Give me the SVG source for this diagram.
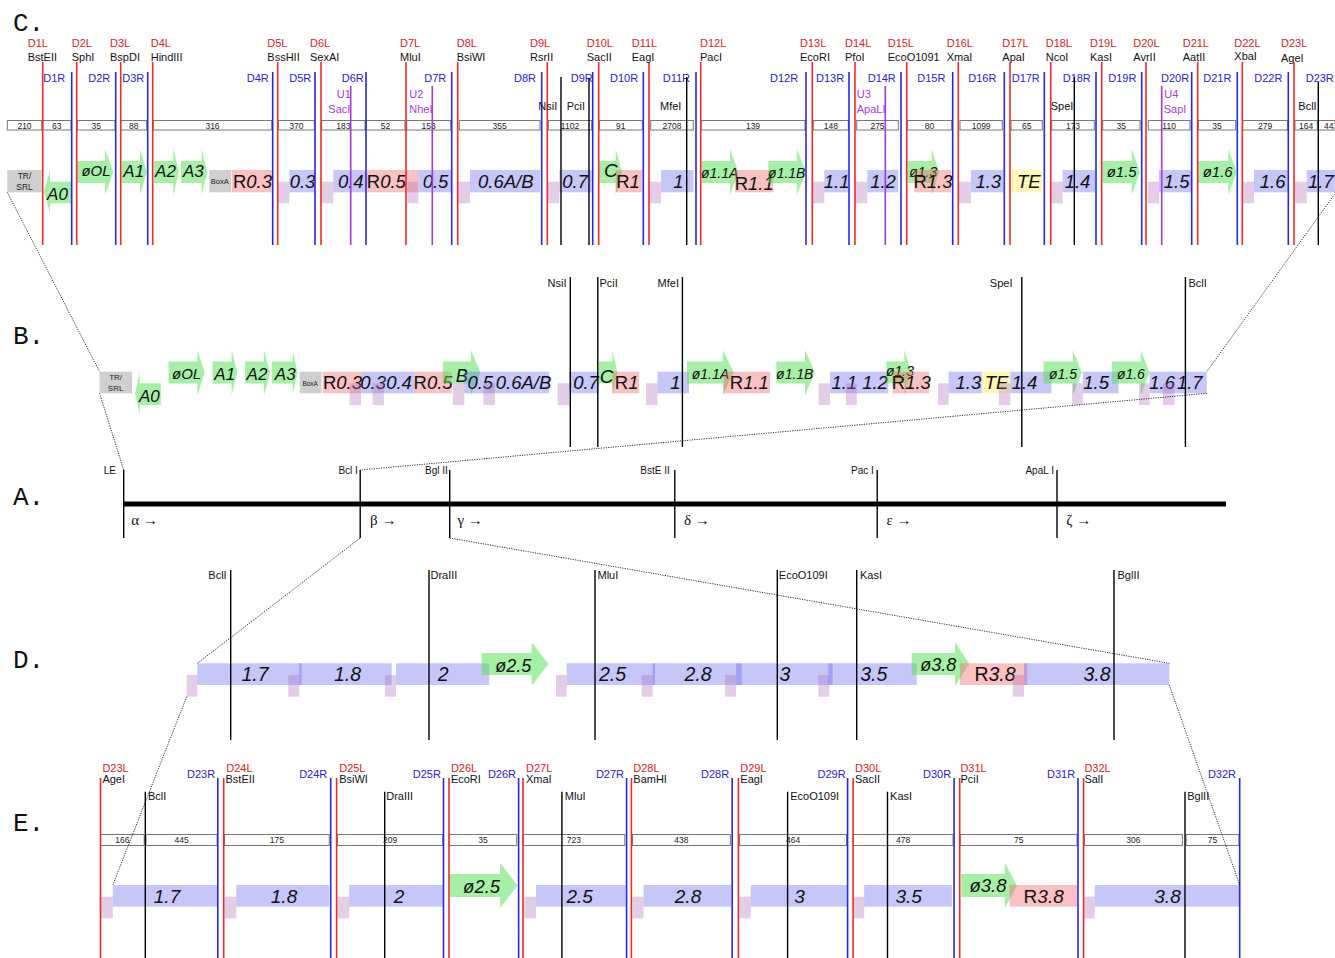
<svg xmlns="http://www.w3.org/2000/svg" width="1335" height="958" viewBox="0 0 1335 958">
<defs><style>
text{font-family:"Liberation Sans",Arial,sans-serif}
.ttl{font-family:"Liberation Mono","Courier New",monospace;font-size:26px;fill:#111}
.lbl{font-size:11px}
.sm{font-size:10px;fill:#111}
.end{text-anchor:end}
.rt{fill:#e02020}.bt{fill:#2323e0}.pt{fill:#a83adb}.kt{fill:#111}
.lr{stroke:#f42a2a;stroke-width:1.6}
.lb{stroke:#2626f0;stroke-width:1.6}
.lp{stroke:#a23ae0;stroke-width:1.6}
.lk{stroke:#000;stroke-width:1.4}
.bx{fill:#fff;stroke:#777;stroke-width:1}
.nt{font-size:8.5px;text-anchor:middle;fill:#222}
.gb{fill:#6262ee;fill-opacity:.36}
.gr{fill:#f06464;fill-opacity:.4}
.gp{fill:#b070b8;fill-opacity:.34}
.ga{fill:#4ee04e;fill-opacity:.5}
.gy{fill:#fff07a;fill-opacity:.55}
.gk{fill:#9a9a9a;fill-opacity:.48}
.gt{font-size:18.5px;font-style:italic;text-anchor:middle;fill:#111}
.gd{font-size:19.5px}
.at{font-size:15px;font-style:italic;text-anchor:middle;fill:#111}
.ab{font-size:17px}
.ut{font-style:normal}
.kx{font-size:8.5px;text-anchor:middle;fill:#222}
.gk2{font-size:15px;font-family:"Liberation Serif","Times New Roman",serif;fill:#111}
.dt{fill:none;stroke:#000;stroke-width:.8;stroke-dasharray:1.2 1.2}
</style></defs>
<rect width="1335" height="958" fill="#fff"/>

<g id="titles">
<text class="ttl" x="13" y="31">C.</text>
<text class="ttl" x="13" y="344">B.</text>
<text class="ttl" x="13" y="505">A.</text>
<text class="ttl" x="13" y="668">D.</text>
<text class="ttl" x="13" y="831">E.</text>
</g>

<!-- ===== C row genes ===== -->
<g id="C-genes">
<g id="c-trsrl"><rect class="gk" x="7.3" y="170" width="34.4" height="22.3"/><text class="kx" x="24.5" y="178.8">TR/</text><text class="kx" x="24.5" y="189.6">SRL</text></g>
<g id="c-a0"><path class="ga" d="M71,181.7H50V170L44,191.7L50,213.3V203.3H71Z"/><text class="at ab" x="57.5" y="199.8">A0</text></g>
<g id="c-ol"><path class="ga" d="M77.3,161H105V149L113.3,172L105,195V183H77.3Z"/><text class="at" x="96" y="175.5">øOL</text></g>
<g id="c-a1"><path class="ga" d="M121.7,161H140V149L146.7,172L140,195V183H121.7Z"/><text class="at ab" x="133.7" y="176.5">A1</text></g>
<g id="c-a2"><path class="ga" d="M154,161H173.3V149L179,172L173.3,195V183H154Z"/><text class="at ab" x="165.5" y="176.5">A2</text></g>
<g id="c-a3"><path class="ga" d="M181,161H201.7V149L207.3,172L201.7,195V183H181Z"/><text class="at ab" x="193.3" y="176.5">A3</text></g>
<g id="c-boxa"><rect class="gk" x="209.3" y="170" width="21.7" height="22.3"/><text class="kx" style="font-size:7.5px" x="219.7" y="183.7">BoxA</text></g>
<g id="c-r03"><rect class="gr" x="231.7" y="170" width="40" height="22.3"/><text class="gt" x="252.5" y="187.5"><tspan class="ut">R</tspan>0.3</text></g>
<g id="c-p1"><rect class="gp" x="277.7" y="181.7" width="11.6" height="21.6"/></g>
<g id="c-03"><rect class="gb" x="289.3" y="170" width="25.7" height="22.3"/><text class="gt" x="302.5" y="187.5">0.3</text></g>
<g id="c-p2"><rect class="gp" x="321" y="181.7" width="12.3" height="21.6"/></g>
<g id="c-04"><rect class="gb" x="333.3" y="170" width="32.7" height="22.3"/><text class="gt" x="350.8" y="187.5">0.4</text></g>
<g id="c-r05"><rect class="gr" x="366" y="170" width="52.3" height="22.3"/><text class="gt" x="386.3" y="187.5"><tspan class="ut">R</tspan>0.5</text></g>
<g id="c-p3"><rect class="gp" x="407.3" y="181.7" width="11" height="21.6"/></g>
<g id="c-05"><rect class="gb" x="418.3" y="170" width="32.7" height="22.3"/><text class="gt" x="435.5" y="187.5">0.5</text></g>
<g id="c-p4"><rect class="gp" x="457.7" y="181.7" width="12.3" height="21.6"/></g>
<g id="c-06"><rect class="gb" x="470" y="170" width="70" height="22.3"/><text class="gt" x="505.8" y="187.5">0.6A/B</text></g>
<g id="c-p5"><rect class="gp" x="547.3" y="181.7" width="12" height="21.6"/></g>
<g id="c-07"><rect class="gb" x="559.3" y="170" width="32.4" height="22.3"/><text class="gt" x="575" y="187.5">0.7</text></g>
<g id="c-c"><path class="ga" d="M599.3,161H615.7V149L622,172L615.7,195V183H599.3Z"/><text class="at" style="font-size:19px" x="610.8" y="177">C</text></g>
<g id="c-r1"><rect class="gr" x="615.7" y="170" width="26.6" height="22.3"/><text class="gt" x="628" y="188"><tspan class="ut">R</tspan>1</text></g>
<g id="c-p6"><rect class="gp" x="649" y="181.7" width="12" height="21.6"/></g>
<g id="c-1"><rect class="gb" x="661" y="170" width="32.3" height="22.3"/><text class="gt" x="678.3" y="188">1</text></g>
<g id="c-11a"><path class="ga" d="M701.7,161H730V149L738.3,172L730,195V183H701.7Z"/><text class="at" style="font-size:14px" x="719.7" y="178.3">ø1.1A</text></g>
<g id="c-r11"><rect class="gr" x="735" y="170" width="38.3" height="22.3"/><text class="gt" x="754.2" y="190"><tspan class="ut">R</tspan>1.1</text></g>
<g id="c-11b"><path class="ga" d="M768.3,161H796.7V149L806,172L796.7,195V183H768.3Z"/><text class="at" style="font-size:14px" x="786.8" y="178.3">ø1.1B</text></g>
<g id="c-p7"><rect class="gp" x="812.3" y="181.7" width="12" height="21.6"/></g>
<g id="c-1-1"><rect class="gb" x="824.3" y="170" width="24" height="22.3"/><text class="gt" x="836.7" y="188">1.1</text></g>
<g id="c-p8"><rect class="gp" x="855" y="181.7" width="12.3" height="21.6"/></g>
<g id="c-12"><rect class="gb" x="867.3" y="170" width="31" height="22.3"/><text class="gt" x="883" y="188">1.2</text></g>
<g id="c-o13"><path class="ga" d="M907.3,161H931.7V149L939,172L931.7,195V183H907.3Z"/><text class="at" style="font-size:14px" x="923.3" y="177">ø1.3</text></g>
<g id="c-r13"><rect class="gr" x="914.3" y="170" width="36.7" height="22.3"/><text class="gt" x="933" y="188"><tspan class="ut">R</tspan>1.3</text></g>
<g id="c-p9"><rect class="gp" x="958.3" y="181.7" width="12.7" height="21.6"/></g>
<g id="c-13"><rect class="gb" x="971" y="170" width="32.3" height="22.3"/><text class="gt" x="988.3" y="188">1.3</text></g>
<g id="c-te"><rect class="gy" x="1011" y="170" width="31.3" height="22.3"/><text class="gt" x="1028.8" y="188">TE</text></g>
<g id="c-p10"><rect class="gp" x="1050.7" y="181.7" width="12" height="21.6"/></g>
<g id="c-14"><rect class="gb" x="1062.7" y="170" width="32.3" height="22.3"/><text class="gt" x="1077.5" y="188">1.4</text></g>
<g id="c-o15"><path class="ga" d="M1102.7,161H1131.7V149L1140,172L1131.7,195V183H1102.7Z"/><text class="at" x="1121.7" y="177">ø1.5</text></g>
<g id="c-p11"><rect class="gp" x="1147.7" y="181.7" width="11.3" height="21.6"/></g>
<g id="c-15"><rect class="gb" x="1159" y="170" width="32" height="22.3"/><text class="gt" x="1176.7" y="188">1.5</text></g>
<g id="c-o16"><path class="ga" d="M1198.3,161H1228.3V149L1236.7,172L1228.3,195V183H1198.3Z"/><text class="at" x="1217.7" y="177">ø1.6</text></g>
<g id="c-p12"><rect class="gp" x="1242.7" y="181.7" width="11.3" height="21.6"/></g>
<g id="c-16"><rect class="gb" x="1254" y="170" width="33.7" height="22.3"/><text class="gt" x="1272.7" y="188">1.6</text></g>
<g id="c-p13"><rect class="gp" x="1294.3" y="181.7" width="12.4" height="21.6"/></g>
<g id="c-17"><rect class="gb" x="1306.7" y="170" width="33.3" height="22.3"/><text class="gt" x="1320.8" y="188">1.7</text></g>
</g>

<g id="C-lengths">
<rect class="bx" x="7.3" y="120.5" width="34.4" height="9.5"/><text class="nt" x="24.5" y="128.5">210</text>
<rect class="bx" x="42.7" y="120.5" width="28.3" height="9.5"/><text class="nt" x="56.85" y="128.5">63</text>
<rect class="bx" x="77.3" y="120.5" width="37.7" height="9.5"/><text class="nt" x="96.15" y="128.5">35</text>
<rect class="bx" x="120.7" y="120.5" width="26" height="9.5"/><text class="nt" x="133.7" y="128.5">88</text>
<rect class="bx" x="153.3" y="120.5" width="118.4" height="9.5"/><text class="nt" x="212.5" y="128.5">316</text>
<rect class="bx" x="278.3" y="120.5" width="36" height="9.5"/><text class="nt" x="296.3" y="128.5">370</text>
<rect class="bx" x="321.7" y="120.5" width="43.3" height="9.5"/><text class="nt" x="343.35" y="128.5">183</text>
<rect class="bx" x="366" y="120.5" width="39" height="9.5"/><text class="nt" x="385.5" y="128.5">52</text>
<rect class="bx" x="406.7" y="120.5" width="44" height="9.5"/><text class="nt" x="428.7" y="128.5">153</text>
<rect class="bx" x="459.3" y="120.5" width="80.7" height="9.5"/><text class="nt" x="499.65" y="128.5">355</text>
<rect class="bx" x="548.3" y="120.5" width="43.4" height="9.5"/><text class="nt" x="570" y="128.5">1102</text>
<rect class="bx" x="599.3" y="120.5" width="43" height="9.5"/><text class="nt" x="620.8" y="128.5">91</text>
<rect class="bx" x="650.7" y="120.5" width="42.6" height="9.5"/><text class="nt" x="672" y="128.5">2708</text>
<rect class="bx" x="701" y="120.5" width="104" height="9.5"/><text class="nt" x="753" y="128.5">139</text>
<rect class="bx" x="813.3" y="120.5" width="35" height="9.5"/><text class="nt" x="830.8" y="128.5">148</text>
<rect class="bx" x="856.7" y="120.5" width="41.6" height="9.5"/><text class="nt" x="877.5" y="128.5">275</text>
<rect class="bx" x="907.3" y="120.5" width="44.4" height="9.5"/><text class="nt" x="929.5" y="128.5">80</text>
<rect class="bx" x="960" y="120.5" width="42.3" height="9.5"/><text class="nt" x="981.15" y="128.5">1099</text>
<rect class="bx" x="1011" y="120.5" width="31.3" height="9.5"/><text class="nt" x="1026.65" y="128.5">65</text>
<rect class="bx" x="1051.7" y="120.5" width="42.6" height="9.5"/><text class="nt" x="1073" y="128.5">173</text>
<rect class="bx" x="1102.7" y="120.5" width="37.3" height="9.5"/><text class="nt" x="1121.35" y="128.5">35</text>
<rect class="bx" x="1148.3" y="120.5" width="41.7" height="9.5"/><text class="nt" x="1169.15" y="128.5">110</text>
<rect class="bx" x="1198.3" y="120.5" width="37.4" height="9.5"/><text class="nt" x="1217" y="128.5">35</text>
<rect class="bx" x="1242.7" y="120.5" width="45" height="9.5"/><text class="nt" x="1265.2" y="128.5">279</text>
<rect class="bx" x="1295" y="120.5" width="22.3" height="9.5"/><text class="nt" x="1306.15" y="128.5">164</text>
<rect class="bx" x="1318.3" y="120.5" width="26" height="9.5"/><text class="nt" x="1331" y="128.5">443</text>
</g>

<g id="C-sites">
<g id="c-d1"><line class="lr" x1="42.7" y1="62" x2="42.7" y2="245"/><text class="lbl rt" x="27.7" y="47.3">D1L</text><text class="lbl kt" x="27.7" y="60.7">BstEII</text><line class="lb" x1="71.7" y1="72" x2="71.7" y2="245"/><text class="lbl bt" x="43.3" y="82">D1R</text></g>
<g id="c-d2"><line class="lr" x1="76.7" y1="62" x2="76.7" y2="245"/><text class="lbl rt" x="71.7" y="47.3">D2L</text><text class="lbl kt" x="71.7" y="60.7">SphI</text><line class="lb" x1="115.7" y1="72" x2="115.7" y2="245"/><text class="lbl bt" x="88.3" y="82">D2R</text></g>
<g id="c-d3"><line class="lr" x1="120.7" y1="62" x2="120.7" y2="245"/><text class="lbl rt" x="110" y="47.3">D3L</text><text class="lbl kt" x="110" y="60.7">BspDI</text><line class="lb" x1="147.7" y1="72" x2="147.7" y2="245"/><text class="lbl bt" x="122.3" y="82">D3R</text></g>
<g id="c-d4"><line class="lr" x1="152.7" y1="62" x2="152.7" y2="245"/><text class="lbl rt" x="150.7" y="47.3">D4L</text><text class="lbl kt" x="150.7" y="60.7">HindIII</text><line class="lb" x1="272.7" y1="72" x2="272.7" y2="245"/><text class="lbl bt" x="246.7" y="82">D4R</text></g>
<g id="c-d5"><line class="lr" x1="277.7" y1="62" x2="277.7" y2="245"/><text class="lbl rt" x="267.3" y="47.3">D5L</text><text class="lbl kt" x="267.3" y="60.7">BssHII</text><line class="lb" x1="315" y1="72" x2="315" y2="245"/><text class="lbl bt" x="289.3" y="82">D5R</text></g>
<g id="c-d6"><line class="lr" x1="321" y1="62" x2="321" y2="245"/><text class="lbl rt" x="310" y="47.3">D6L</text><text class="lbl kt" x="310" y="60.7">SexAI</text><line class="lb" x1="366" y1="72" x2="366" y2="245"/><text class="lbl bt" x="341.7" y="82">D6R</text></g>
<g id="c-d7"><line class="lr" x1="406" y1="62" x2="406" y2="245"/><text class="lbl rt" x="400" y="47.3">D7L</text><text class="lbl kt" x="400" y="60.7">MluI</text><line class="lb" x1="451.7" y1="72" x2="451.7" y2="245"/><text class="lbl bt" x="424.3" y="82">D7R</text></g>
<g id="c-d8"><line class="lr" x1="457.7" y1="62" x2="457.7" y2="245"/><text class="lbl rt" x="456.7" y="47.3">D8L</text><text class="lbl kt" x="456.7" y="60.7">BsiWI</text><line class="lb" x1="541.7" y1="72" x2="541.7" y2="245"/><text class="lbl bt" x="514" y="82">D8R</text></g>
<g id="c-d9"><line class="lr" x1="547.3" y1="62" x2="547.3" y2="245"/><text class="lbl rt" x="530" y="47.3">D9L</text><text class="lbl kt" x="530" y="60.7">RsrII</text><line class="lb" x1="592.7" y1="72" x2="592.7" y2="245"/><text class="lbl bt" x="570.7" y="82">D9R</text></g>
<g id="c-d10"><line class="lr" x1="598.7" y1="62" x2="598.7" y2="245"/><text class="lbl rt" x="586.7" y="47.3">D10L</text><text class="lbl kt" x="586.7" y="60.7">SacII</text><line class="lb" x1="643.3" y1="72" x2="643.3" y2="245"/><text class="lbl bt" x="610" y="82">D10R</text></g>
<g id="c-d11"><line class="lr" x1="649" y1="62" x2="649" y2="245"/><text class="lbl rt" x="631.7" y="47.3">D11L</text><text class="lbl kt" x="631.7" y="60.7">EagI</text><line class="lb" x1="696" y1="72" x2="696" y2="245"/><text class="lbl bt" x="662.7" y="82">D11R</text></g>
<g id="c-d12"><line class="lr" x1="700.7" y1="62" x2="700.7" y2="245"/><text class="lbl rt" x="700" y="47.3">D12L</text><text class="lbl kt" x="700" y="60.7">PacI</text><line class="lb" x1="806" y1="72" x2="806" y2="245"/><text class="lbl bt" x="770" y="82">D12R</text></g>
<g id="c-d13"><line class="lr" x1="812.3" y1="62" x2="812.3" y2="245"/><text class="lbl rt" x="800" y="47.3">D13L</text><text class="lbl kt" x="800" y="60.7">EcoRI</text><line class="lb" x1="849" y1="72" x2="849" y2="245"/><text class="lbl bt" x="816" y="82">D13R</text></g>
<g id="c-d14"><line class="lr" x1="855" y1="62" x2="855" y2="245"/><text class="lbl rt" x="845" y="47.3">D14L</text><text class="lbl kt" x="845" y="60.7">PfoI</text><line class="lb" x1="901" y1="72" x2="901" y2="245"/><text class="lbl bt" x="867.7" y="82">D14R</text></g>
<g id="c-d15"><line class="lr" x1="906.7" y1="62" x2="906.7" y2="245"/><text class="lbl rt" x="887.7" y="47.3">D15L</text><text class="lbl kt" x="887.7" y="60.7">EcoO1091</text><line class="lb" x1="952.7" y1="72" x2="952.7" y2="245"/><text class="lbl bt" x="917.3" y="82">D15R</text></g>
<g id="c-d16"><line class="lr" x1="958.3" y1="62" x2="958.3" y2="245"/><text class="lbl rt" x="946.7" y="47.3">D16L</text><text class="lbl kt" x="946.7" y="60.7">XmaI</text><line class="lb" x1="1004.3" y1="72" x2="1004.3" y2="245"/><text class="lbl bt" x="968.3" y="82">D16R</text></g>
<g id="c-d17"><line class="lr" x1="1010" y1="62" x2="1010" y2="245"/><text class="lbl rt" x="1002.3" y="47.3">D17L</text><text class="lbl kt" x="1002.3" y="60.7">ApaI</text><line class="lb" x1="1044.3" y1="72" x2="1044.3" y2="245"/><text class="lbl bt" x="1011.7" y="82">D17R</text></g>
<g id="c-d18"><line class="lr" x1="1050.7" y1="62" x2="1050.7" y2="245"/><text class="lbl rt" x="1045.7" y="47.3">D18L</text><text class="lbl kt" x="1045.7" y="60.7">NcoI</text><line class="lb" x1="1096" y1="72" x2="1096" y2="245"/><text class="lbl bt" x="1062.7" y="82">D18R</text></g>
<g id="c-d19"><line class="lr" x1="1101.7" y1="62" x2="1101.7" y2="245"/><text class="lbl rt" x="1090" y="47.3">D19L</text><text class="lbl kt" x="1090" y="60.7">KasI</text><line class="lb" x1="1141.7" y1="72" x2="1141.7" y2="245"/><text class="lbl bt" x="1108.3" y="82">D19R</text></g>
<g id="c-d20"><line class="lr" x1="1146" y1="62" x2="1146" y2="245"/><text class="lbl rt" x="1133.3" y="47.3">D20L</text><text class="lbl kt" x="1133.3" y="60.7">AvrII</text><line class="lb" x1="1191.7" y1="72" x2="1191.7" y2="245"/><text class="lbl bt" x="1161" y="82">D20R</text></g>
<g id="c-d21"><line class="lr" x1="1197.7" y1="62" x2="1197.7" y2="245"/><text class="lbl rt" x="1182.7" y="47.3">D21L</text><text class="lbl kt" x="1182.7" y="60.7">AatII</text><line class="lb" x1="1237.3" y1="72" x2="1237.3" y2="245"/><text class="lbl bt" x="1203.3" y="82">D21R</text></g>
<g id="c-d22"><line class="lr" x1="1242.3" y1="62" x2="1242.3" y2="245"/><text class="lbl rt" x="1234.3" y="47.3">D22L</text><text class="lbl kt" x="1234.3" y="60">XbaI</text><line class="lb" x1="1288.3" y1="72" x2="1288.3" y2="245"/><text class="lbl bt" x="1254.3" y="82">D22R</text></g>
<g id="c-d23"><line class="lr" x1="1294" y1="62" x2="1294" y2="245"/><text class="lbl rt" x="1281" y="47.3">D23L</text><text class="lbl kt" x="1281" y="61.5">AgeI</text><text class="lbl bt" x="1305.7" y="82">D23R</text></g>
<g id="c-u1"><line class="lp" x1="350.7" y1="86" x2="350.7" y2="245"/><text class="lbl pt" x="336.7" y="97.5">U1</text><text class="lbl pt" x="328.3" y="112.5">SacI</text></g>
<g id="c-u2"><line class="lp" x1="432.3" y1="86" x2="432.3" y2="245"/><text class="lbl pt" x="409.3" y="97.5">U2</text><text class="lbl pt" x="409.3" y="112.5">NheI</text></g>
<g id="c-u3"><line class="lp" x1="885.3" y1="86" x2="885.3" y2="245"/><text class="lbl pt" x="856.7" y="97.5">U3</text><text class="lbl pt" x="856.7" y="112.5">ApaLI</text></g>
<g id="c-u4"><line class="lp" x1="1161.7" y1="86" x2="1161.7" y2="245"/><text class="lbl pt" x="1164.3" y="97.5">U4</text><text class="lbl pt" x="1163.7" y="112.5">SapI</text></g>
<g id="c-nsi"><line class="lk" x1="561" y1="77" x2="561" y2="245"/><text class="lbl kt" x="538.3" y="110">NsiI</text></g>
<g id="c-pci"><line class="lk" x1="589" y1="78" x2="589" y2="245"/><text class="lbl kt" x="566.7" y="110">PciI</text></g>
<g id="c-mfe"><line class="lk" x1="686.7" y1="77" x2="686.7" y2="245"/><text class="lbl kt" x="660" y="110">MfeI</text></g>
<g id="c-spe"><line class="lk" x1="1074.3" y1="77" x2="1074.3" y2="245"/><text class="lbl kt" x="1050.7" y="110">SpeI</text></g>
<g id="c-bcl"><line class="lk" x1="1318.3" y1="82" x2="1318.3" y2="245"/><text class="lbl kt" x="1298.3" y="110">BclI</text></g>
</g>

<!-- ===== B row ===== -->
<g id="B-genes">
<g id="b-trsrl"><rect class="gk" x="99.6" y="371.7" width="32.5" height="21.6"/><text class="kx" style="font-size:8px" x="115.6" y="380.3">TR/</text><text class="kx" style="font-size:8px" x="115.6" y="391">SRL</text></g>
<g id="b-a0"><path class="ga" d="M160.8,383.3H139.7V371.7L135.2,393.3L139.7,415V405H160.8Z"/><text class="at ab" x="149.3" y="401.5">A0</text></g>
<g id="b-ol"><path class="ga" d="M168.5,361.5H197.2V350L204.8,372.5L197.2,395V383.5H168.5Z"/><text class="at" x="186.6" y="378.8">øOL</text></g>
<g id="b-a1"><path class="ga" d="M212.5,361.5H231.6V350L237.3,372.5L231.6,395V383.5H212.5Z"/><text class="at ab" x="224.7" y="379.5">A1</text></g>
<g id="b-a2"><path class="ga" d="M245,361.5H264V350L270,372.5L264,395V383.5H245Z"/><text class="at ab" x="257" y="379.5">A2</text></g>
<g id="b-a3"><path class="ga" d="M271.8,361.5H292.8V350L297.4,372.5L292.8,395V383.5H271.8Z"/><text class="at ab" x="285.2" y="379.5">A3</text></g>
<g id="b-boxa"><rect class="gk" x="299.7" y="371.7" width="21.8" height="21.6"/><text class="kx" style="font-size:6.5px" x="310.2" y="385.5">BoxA</text></g>
<g id="b-r03"><rect class="gr" x="322.7" y="371.7" width="39" height="21.6"/><text class="gt" x="342.5" y="389"><tspan class="ut">R</tspan>0.3</text></g>
<g id="b-p1"><rect class="gp" x="349.5" y="383.3" width="11.5" height="21.7"/></g>
<g id="b-03"><rect class="gb" x="361.7" y="371.7" width="22.2" height="21.6"/><text class="gt" x="373.2" y="389">0.3</text></g>
<g id="b-p2"><rect class="gp" x="372.4" y="383.3" width="11.5" height="21.7"/></g>
<g id="b-04"><rect class="gb" x="383.9" y="371.7" width="30.6" height="21.6"/><text class="gt" x="399" y="389">0.4</text></g>
<g id="b-r05"><rect class="gr" x="414.5" y="371.7" width="37.2" height="21.6"/><text class="gt" x="433.1" y="389"><tspan class="ut">R</tspan>0.5</text></g>
<g id="b-b"><path class="ga" d="M442.8,361.5H470.8V350L480.4,372.5L470.8,395V383.5H442.8Z"/><text class="at" style="font-size:18px" x="461.8" y="381.5">B</text></g>
<g id="b-p3"><rect class="gp" x="452.8" y="383.3" width="11.5" height="21.7"/></g>
<g id="b-05"><rect class="gb" x="464.3" y="371.7" width="31.4" height="21.6"/><text class="gt" x="480.3" y="389">0.5</text></g>
<g id="b-p4"><rect class="gp" x="483.4" y="383.3" width="11.5" height="21.7"/></g>
<g id="b-06"><rect class="gb" x="495.7" y="371.7" width="53.5" height="21.6"/><text class="gt" x="523.5" y="389">0.6A/B</text></g>
<g id="b-p5"><rect class="gp" x="557.7" y="383.3" width="11.4" height="21.7"/></g>
<g id="b-07"><rect class="gb" x="569.1" y="371.7" width="29.9" height="21.6"/><text class="gt" x="586" y="389">0.7</text></g>
<g id="b-c"><path class="ga" d="M599,361.5H612.4V350L617.4,372.5L612.4,395V383.5H599Z"/><text class="at" style="font-size:19px" x="606.6" y="382.5">C</text></g>
<g id="b-r1"><rect class="gr" x="612.4" y="371.7" width="26.8" height="21.6"/><text class="gt" x="626.7" y="389"><tspan class="ut">R</tspan>1</text></g>
<g id="b-p6"><rect class="gp" x="646" y="383.3" width="11.5" height="21.7"/></g>
<g id="b-1"><rect class="gb" x="657.5" y="371.7" width="31.5" height="21.6"/><text class="gt" x="675.5" y="389">1</text></g>
<g id="b-11a"><path class="ga" d="M687,361.5H722.9V350L733.6,372.5L722.9,395V383.5H687Z"/><text class="at" style="font-size:14px" x="710.4" y="378.5">ø1.1A</text></g>
<g id="b-r11"><rect class="gr" x="723.6" y="371.7" width="46.4" height="21.6"/><text class="gt" x="749.3" y="389"><tspan class="ut">R</tspan>1.1</text></g>
<g id="b-11b"><path class="ga" d="M776.4,361.5H805V350L815,372.5L805,395V383.5H776.4Z"/><text class="at" style="font-size:14px" x="794.8" y="378.5">ø1.1B</text></g>
<g id="b-p7"><rect class="gp" x="818.6" y="383.3" width="11.4" height="21.7"/></g>
<g id="b-1-1"><rect class="gb" x="830" y="371.7" width="26.8" height="21.6"/><text class="gt" x="844.3" y="389">1.1</text></g>
<g id="b-p8"><rect class="gp" x="846" y="383.3" width="10.8" height="21.7"/></g>
<g id="b-12"><rect class="gb" x="856.8" y="371.7" width="31.4" height="21.6"/><text class="gt" x="875" y="389">1.2</text></g>
<g id="b-o13"><path class="ga" d="M886.4,361.5H904.3V350L911.4,372.5L904.3,395V383.5H886.4Z"/><text class="at" style="font-size:14px" x="900" y="375.5">ø1.3</text></g>
<g id="b-r13"><rect class="gr" x="892.5" y="371.7" width="36.8" height="21.6"/><text class="gt" x="911.3" y="389"><tspan class="ut">R</tspan>1.3</text></g>
<g id="b-p9"><rect class="gp" x="937.9" y="383.3" width="10.7" height="21.7"/></g>
<g id="b-13"><rect class="gb" x="948.6" y="371.7" width="33.2" height="21.6"/><text class="gt" x="968.4" y="389">1.3</text></g>
<g id="b-te"><rect class="gy" x="981.8" y="371.7" width="28.6" height="21.6"/><text class="gt" x="996.6" y="389">TE</text></g>
<g id="b-p10"><rect class="gp" x="998.9" y="383.3" width="11.5" height="21.7"/></g>
<g id="b-14"><rect class="gb" x="1010.4" y="371.7" width="41" height="21.6"/><text class="gt" x="1024.5" y="389">1.4</text></g>
<g id="b-o15"><path class="ga" d="M1043.6,361.5H1072.9V350L1081.8,372.5L1072.9,395V383.5H1043.6Z"/><text class="at" style="font-size:14px" x="1063" y="378.5">ø1.5</text></g>
<g id="b-p11"><rect class="gp" x="1072.1" y="383.3" width="10.8" height="21.7"/></g>
<g id="b-15"><rect class="gb" x="1082.9" y="371.7" width="35.7" height="21.6"/><text class="gt" x="1096.1" y="389">1.5</text></g>
<g id="b-o16"><path class="ga" d="M1112.1,361.5H1140.7V350L1149.6,372.5L1140.7,395V383.5H1112.1Z"/><text class="at" style="font-size:14px" x="1130.9" y="378.5">ø1.6</text></g>
<g id="b-p12"><rect class="gp" x="1138.9" y="383.3" width="10.7" height="21.7"/></g>
<g id="b-16"><rect class="gb" x="1149.6" y="371.7" width="25" height="21.6"/><text class="gt" x="1162.1" y="389">1.6</text></g>
<g id="b-p13"><rect class="gp" x="1162.9" y="383.3" width="11.7" height="21.7"/></g>
<g id="b-17"><rect class="gb" x="1174.6" y="371.7" width="32.2" height="21.6"/><text class="gt" x="1189.8" y="389">1.7</text></g>
</g>
<g id="B-sites">
<g id="b-nsi"><line class="lk" x1="570.3" y1="277" x2="570.3" y2="447"/><text class="lbl kt end" x="566.5" y="286.5">NsiI</text></g>
<g id="b-pci"><line class="lk" x1="597.8" y1="277" x2="597.8" y2="447"/><text class="lbl kt" x="599.5" y="286.5">PciI</text></g>
<g id="b-mfe"><line class="lk" x1="682.4" y1="277" x2="682.4" y2="447"/><text class="lbl kt end" x="679" y="286.5">MfeI</text></g>
<g id="b-spe"><line class="lk" x1="1021.8" y1="277" x2="1021.8" y2="447"/><text class="lbl kt end" x="1012.5" y="286.5">SpeI</text></g>
<g id="b-bcl"><line class="lk" x1="1185.4" y1="277" x2="1185.4" y2="447"/><text class="lbl kt" x="1188.5" y="286.5">BclI</text></g>
</g>

<!-- ===== A row ===== -->
<g id="A-map">
<g id="a-genome"><line x1="123.7" y1="504" x2="1226" y2="504" stroke="#000" stroke-width="5"/></g>
<g id="a-le"><line class="lk" x1="123.7" y1="470" x2="123.7" y2="538"/><text class="sm end" x="116" y="473.5">LE</text><text class="gk2" x="131.3" y="525">α →</text></g>
<g id="a-bcl"><line class="lk" x1="360.2" y1="470" x2="360.2" y2="538"/><text class="sm end" x="357.9" y="473.5">Bcl I</text><text class="gk2" x="370.1" y="525">β →</text></g>
<g id="a-bgl"><line class="lk" x1="449.7" y1="470" x2="449.7" y2="538"/><text class="sm end" x="447.8" y="473.5">Bgl II</text><text class="gk2" x="457.4" y="525">γ →</text></g>
<g id="a-bste"><line class="lk" x1="674.8" y1="470" x2="674.8" y2="538"/><text class="sm end" x="669.8" y="473.5">BstE II</text><text class="gk2" x="684" y="525">δ →</text></g>
<g id="a-pac"><line class="lk" x1="877.2" y1="470" x2="877.2" y2="538"/><text class="sm end" x="873.8" y="473.5">Pac I</text><text class="gk2" x="886.4" y="525">ε →</text></g>
<g id="a-apal"><line class="lk" x1="1057" y1="470" x2="1057" y2="538"/><text class="sm end" x="1054" y="473.5">ApaL I</text><text class="gk2" x="1066.2" y="525">ζ →</text></g>
</g>

<!-- ===== D row ===== -->
<g id="D-genes">
<g id="d-p1"><rect class="gp" x="186.7" y="675" width="10.6" height="21.7"/></g>
<g id="d-17"><rect class="gb" x="197.3" y="663.3" width="104.4" height="21.7"/><text class="gt gd" x="255" y="681">1.7</text></g>
<g id="d-p2"><rect class="gp" x="288.3" y="675" width="11" height="21.7"/></g>
<g id="d-18"><rect class="gb" x="299.3" y="663.3" width="92.4" height="21.7"/><text class="gt gd" x="347.5" y="681">1.8</text></g>
<g id="d-p3"><rect class="gp" x="385" y="675" width="11" height="21.7"/></g>
<g id="d-2"><rect class="gb" x="396" y="663.3" width="93.3" height="21.7"/><text class="gt gd" x="443.3" y="681">2</text></g>
<g id="d-o25"><path class="ga" d="M481.7,653H531.7V642L548.3,664L531.7,686V675H481.7Z"/><text class="at" style="font-size:18px" x="513.3" y="671.5">ø2.5</text></g>
<g id="d-p4"><rect class="gp" x="556" y="675" width="10.7" height="21.7"/></g>
<g id="d-25"><rect class="gb" x="566.7" y="663.3" width="88.3" height="21.7"/><text class="gt gd" x="612.5" y="681">2.5</text></g>
<g id="d-p5"><rect class="gp" x="641.7" y="675" width="11" height="21.7"/></g>
<g id="d-28"><rect class="gb" x="652.7" y="663.3" width="89" height="21.7"/><text class="gt gd" x="698" y="681">2.8</text></g>
<g id="d-p6"><rect class="gp" x="725" y="675" width="11" height="21.7"/></g>
<g id="d-3"><rect class="gb" x="736" y="663.3" width="96.7" height="21.7"/><text class="gt gd" x="785" y="681">3</text></g>
<g id="d-p7"><rect class="gp" x="818.3" y="675" width="11" height="21.7"/></g>
<g id="d-35"><rect class="gb" x="828.3" y="663.3" width="88.4" height="21.7"/><text class="gt gd" x="873.7" y="681">3.5</text></g>
<g id="d-o38"><path class="ga" d="M911.7,653H955V642L969.3,664L955,686V675H911.7Z"/><text class="at" style="font-size:18px" x="938.3" y="671">ø3.8</text></g>
<g id="d-r38"><rect class="gr" x="960" y="663.3" width="67.3" height="21.7"/><text class="gt gd" x="995" y="681"><tspan class="ut">R</tspan>3.8</text></g>
<g id="d-p8"><rect class="gp" x="1012.7" y="675" width="11.3" height="21.7"/></g>
<g id="d-38"><rect class="gb" x="1024" y="663.3" width="145.3" height="21.7"/><text class="gt gd" x="1097" y="681">3.8</text></g>
</g>
<g id="D-sites">
<g id="d-bcl"><line class="lk" x1="230.7" y1="570" x2="230.7" y2="740" stroke="#333"/><text class="lbl kt end" x="226.7" y="579">BclI</text></g>
<g id="d-dra"><line class="lk" x1="429" y1="570" x2="429" y2="740"/><text class="lbl kt" x="430.5" y="579">DraIII</text></g>
<g id="d-mlu"><line class="lk" x1="595" y1="570" x2="595" y2="740"/><text class="lbl kt" x="597.5" y="579">MluI</text></g>
<g id="d-eco"><line class="lk" x1="777.3" y1="570" x2="777.3" y2="740"/><text class="lbl kt" x="778.8" y="579">EcoO109I</text></g>
<g id="d-kas"><line class="lk" x1="856.7" y1="570" x2="856.7" y2="740"/><text class="lbl kt" x="860" y="579">KasI</text></g>
<g id="d-bgl"><line class="lk" x1="1114" y1="570" x2="1114" y2="740"/><text class="lbl kt" x="1117.5" y="579">BglII</text></g>
</g>

<!-- ===== E row ===== -->
<g id="E-genes">
<g id="e-p1"><rect class="gp" x="100.5" y="896.7" width="12.3" height="21.6"/></g>
<g id="e-17"><rect class="gb" x="112.8" y="885" width="104.3" height="21.7"/><text class="gt" style="font-size:19px" x="167" y="902.5">1.7</text></g>
<g id="e-p2"><rect class="gp" x="224.5" y="896.7" width="11.8" height="21.6"/></g>
<g id="e-18"><rect class="gb" x="236.3" y="885" width="92.9" height="21.7"/><text class="gt" style="font-size:19px" x="284" y="902.5">1.8</text></g>
<g id="e-p3"><rect class="gp" x="337.3" y="896.7" width="11.9" height="21.6"/></g>
<g id="e-2"><rect class="gb" x="349.2" y="885" width="93.6" height="21.7"/><text class="gt" style="font-size:19px" x="399" y="902.5">2</text></g>
<g id="e-o25"><path class="ga" d="M449.4,874H500.1V863L517.5,885.5L500.1,908V897H449.4Z"/><text class="at" style="font-size:18.5px" x="481.6" y="893">ø2.5</text></g>
<g id="e-p4"><rect class="gp" x="524.2" y="896.7" width="11.8" height="21.6"/></g>
<g id="e-25"><rect class="gb" x="536" y="885" width="89.9" height="21.7"/><text class="gt" style="font-size:19px" x="579.6" y="902.5">2.5</text></g>
<g id="e-p5"><rect class="gp" x="632.5" y="896.7" width="11.1" height="21.6"/></g>
<g id="e-28"><rect class="gb" x="643.6" y="885" width="87.4" height="21.7"/><text class="gt" style="font-size:19px" x="688" y="902.5">2.8</text></g>
<g id="e-p6"><rect class="gp" x="739.6" y="896.7" width="11.1" height="21.6"/></g>
<g id="e-3"><rect class="gb" x="750.7" y="885" width="96.1" height="21.7"/><text class="gt" style="font-size:19px" x="799.5" y="902.5">3</text></g>
<g id="e-p7"><rect class="gp" x="853.1" y="896.7" width="11.1" height="21.6"/></g>
<g id="e-35"><rect class="gb" x="864.2" y="885" width="87.7" height="21.7"/><text class="gt" style="font-size:19px" x="908.7" y="902.5">3.5</text></g>
<g id="e-o38"><path class="ga" d="M961.2,874H1004.8V863L1017,885.5L1004.8,908V897H961.2Z"/><text class="at" style="font-size:18.5px" x="988" y="892">ø3.8</text></g>
<g id="e-r38"><rect class="gr" x="1009.6" y="885" width="67.4" height="21.7"/><text class="gt" style="font-size:19px" x="1043.7" y="902.5"><tspan class="ut">R</tspan>3.8</text></g>
<g id="e-p8"><rect class="gp" x="1084.4" y="896.7" width="10.3" height="21.6"/></g>
<g id="e-38"><rect class="gb" x="1094.7" y="885" width="145" height="21.7"/><text class="gt" style="font-size:19px" x="1167.5" y="902.5">3.8</text></g>
</g>
<g id="E-lengths">
<rect class="bx" x="100.5" y="834.5" width="43.7" height="11"/><text class="nt" x="122.35" y="843">166</text>
<rect class="bx" x="146" y="834.5" width="71.1" height="11"/><text class="nt" x="181.55" y="843">445</text>
<rect class="bx" x="224.5" y="834.5" width="104.7" height="11"/><text class="nt" x="276.85" y="843">175</text>
<rect class="bx" x="337.3" y="834.5" width="105.5" height="11"/><text class="nt" x="390.05" y="843">209</text>
<rect class="bx" x="449.4" y="834.5" width="67.4" height="11"/><text class="nt" x="483.1" y="843">35</text>
<rect class="bx" x="523" y="834.5" width="101.8" height="11"/><text class="nt" x="573.9" y="843">723</text>
<rect class="bx" x="632.5" y="834.5" width="97.8" height="11"/><text class="nt" x="681.4" y="843">438</text>
<rect class="bx" x="739.6" y="834.5" width="106.9" height="11"/><text class="nt" x="793.05" y="843">464</text>
<rect class="bx" x="853.1" y="834.5" width="99.9" height="11"/><text class="nt" x="903.05" y="843">478</text>
<rect class="bx" x="960.4" y="834.5" width="116.6" height="11"/><text class="nt" x="1018.7" y="843">75</text>
<rect class="bx" x="1084.4" y="834.5" width="98" height="11"/><text class="nt" x="1133.4" y="843">306</text>
<rect class="bx" x="1186.1" y="834.5" width="52.9" height="11"/><text class="nt" x="1212.55" y="843">75</text>
</g>
<g id="E-sites">
<g id="e-d23"><line class="lr" x1="100.5" y1="778" x2="100.5" y2="958"/><text class="lbl rt" x="102.4" y="772.3">D23L</text><text class="lbl kt" x="102.4" y="783">AgeI</text><line class="lb" x1="217.8" y1="778" x2="217.8" y2="958"/><text class="lbl bt end" x="215.2" y="778.3">D23R</text></g>
<g id="e-d24"><line class="lr" x1="223.7" y1="778" x2="223.7" y2="958"/><text class="lbl rt" x="226.3" y="772.3">D24L</text><text class="lbl kt" x="225.5" y="783">BstEII</text><line class="lb" x1="330.7" y1="778" x2="330.7" y2="958"/><text class="lbl bt end" x="327.3" y="778.3">D24R</text></g>
<g id="e-d25"><line class="lr" x1="336.6" y1="778" x2="336.6" y2="958"/><text class="lbl rt" x="339.2" y="772.3">D25L</text><text class="lbl kt" x="339.2" y="783">BsiWI</text><line class="lb" x1="443.5" y1="778" x2="443.5" y2="958"/><text class="lbl bt end" x="440.9" y="778.3">D25R</text></g>
<g id="e-d26"><line class="lr" x1="449" y1="778" x2="449" y2="958"/><text class="lbl rt" x="450.9" y="772.3">D26L</text><text class="lbl kt" x="450.9" y="783">EcoRI</text><line class="lb" x1="518.6" y1="778" x2="518.6" y2="958"/><text class="lbl bt end" x="516" y="778.3">D26R</text></g>
<g id="e-d27"><line class="lr" x1="523" y1="778" x2="523" y2="958"/><text class="lbl rt" x="526" y="772.3">D27L</text><text class="lbl kt" x="526" y="783">XmaI</text><line class="lb" x1="626.6" y1="778" x2="626.6" y2="958"/><text class="lbl bt end" x="624" y="778.3">D27R</text></g>
<g id="e-d28"><line class="lr" x1="631.4" y1="778" x2="631.4" y2="958"/><text class="lbl rt" x="633.3" y="772.3">D28L</text><text class="lbl kt" x="633.3" y="783">BamHI</text><line class="lb" x1="732.2" y1="778" x2="732.2" y2="958"/><text class="lbl bt end" x="729.2" y="778.3">D28R</text></g>
<g id="e-d29"><line class="lr" x1="738.4" y1="778" x2="738.4" y2="958"/><text class="lbl rt" x="740.3" y="772.3">D29L</text><text class="lbl kt" x="740.3" y="783">EagI</text><line class="lb" x1="847.6" y1="778" x2="847.6" y2="958"/><text class="lbl bt end" x="845.7" y="778.3">D29R</text></g>
<g id="e-d30"><line class="lr" x1="853.1" y1="778" x2="853.1" y2="958"/><text class="lbl rt" x="855" y="772.3">D30L</text><text class="lbl kt" x="855" y="783">SacII</text><line class="lb" x1="954.1" y1="778" x2="954.1" y2="958"/><text class="lbl bt end" x="951.2" y="778.3">D30R</text></g>
<g id="e-d31"><line class="lr" x1="959.7" y1="778" x2="959.7" y2="958"/><text class="lbl rt" x="960.4" y="772.3">D31L</text><text class="lbl kt" x="960.4" y="783">PciI</text><line class="lb" x1="1078" y1="778" x2="1078" y2="958"/><text class="lbl bt end" x="1075.1" y="778.3">D31R</text></g>
<g id="e-d32"><line class="lr" x1="1083.6" y1="778" x2="1083.6" y2="958"/><text class="lbl rt" x="1084.4" y="772.3">D32L</text><text class="lbl kt" x="1084.4" y="783">SalI</text><line class="lb" x1="1239.7" y1="778" x2="1239.7" y2="958"/><text class="lbl bt end" x="1236" y="778.3">D32R</text></g>
<g id="e-bcl"><line class="lk" x1="145.3" y1="791.7" x2="145.3" y2="958"/><text class="lbl kt" x="147.9" y="799.7">BclI</text></g>
<g id="e-dra"><line class="lk" x1="384.7" y1="791.7" x2="384.7" y2="958"/><text class="lbl kt" x="386.2" y="799.7">DraIII</text></g>
<g id="e-mlu"><line class="lk" x1="561.9" y1="791.7" x2="561.9" y2="958"/><text class="lbl kt" x="564.8" y="799.7">MluI</text></g>
<g id="e-eco"><line class="lk" x1="787.6" y1="791.7" x2="787.6" y2="958"/><text class="lbl kt" x="790.2" y="799.7">EcoO109I</text></g>
<g id="e-kas"><line class="lk" x1="887.5" y1="791.7" x2="887.5" y2="958"/><text class="lbl kt" x="890.1" y="799.7">KasI</text></g>
<g id="e-bgl"><line class="lk" x1="1185" y1="791.7" x2="1185" y2="958"/><text class="lbl kt" x="1187.2" y="799.7">BglII</text></g>
</g>

<g id="connectors">
<line class="dt" x1="7.3" y1="192.3" x2="99.6" y2="371.7"/>
<line class="dt" x1="99.6" y1="393.3" x2="123.7" y2="470"/>
<line class="dt" x1="1336" y1="192.3" x2="1206.8" y2="371.7"/>
<line class="dt" x1="1206.8" y1="393.3" x2="360.2" y2="470"/>
<line class="dt" x1="360.2" y1="538" x2="197.3" y2="663.3"/>
<line class="dt" x1="449.7" y1="538" x2="1169.3" y2="663.3"/>
<line class="dt" x1="186.7" y1="696.7" x2="112.8" y2="885"/>
<line class="dt" x1="1169.3" y1="685" x2="1239.7" y2="885"/>
</g>
</svg>
